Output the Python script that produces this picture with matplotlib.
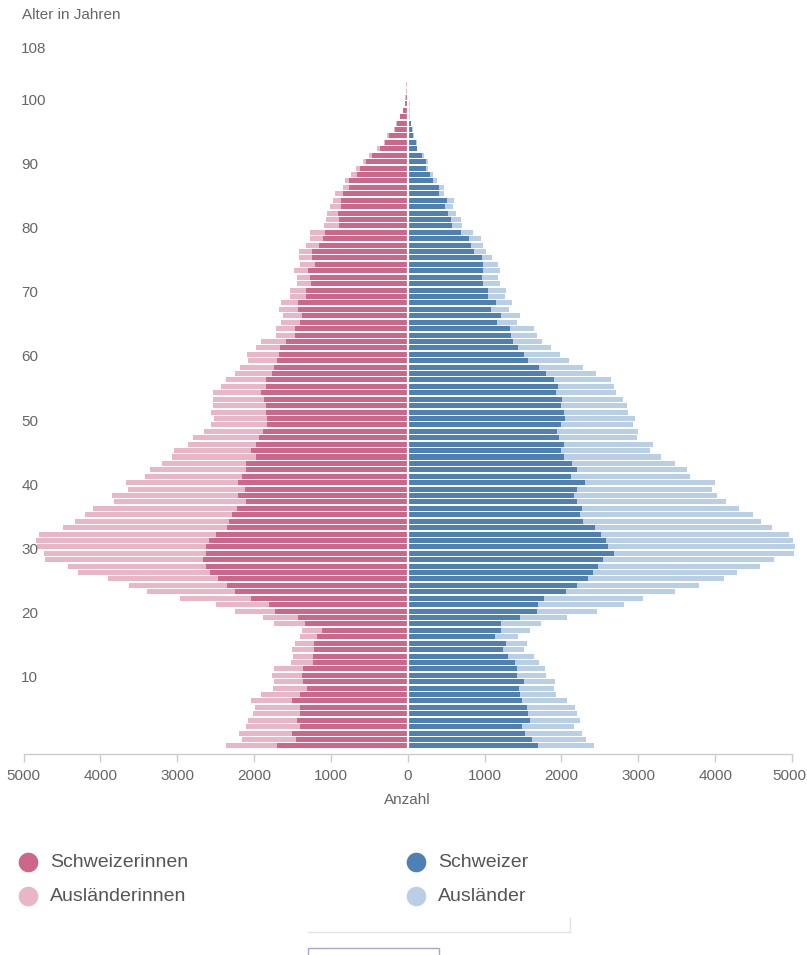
import numpy as np
import matplotlib
matplotlib.use("Agg")
import matplotlib.pyplot as plt
import matplotlib.transforms as mtransforms
from matplotlib.lines import Line2D
from matplotlib.patches import Rectangle

plt.rcParams['font.family'] = ['Liberation Sans', 'DejaVu Sans']

# Alter 0..108
alter = np.arange(0, 109)

# Frauen: Schweizerinnen und Total (Schweizerinnen + Ausländerinnen)
schweizerinnen = [
    1695, 1451, 1508, 1403, 1442, 1407, 1407, 1508, 1407, 1316,
    1364, 1381, 1364, 1237, 1237, 1216, 1216, 1185, 1115, 1342,
    1425, 1721, 1804, 2035, 2244, 2348, 2475, 2579, 2623, 2666,
    2623, 2623, 2584, 2497, 2348, 2327, 2292, 2226, 2100, 2205,
    2117, 2205, 2161, 2100, 2100, 1974, 2035, 1974, 1930, 1887,
    1826, 1826, 1847, 1847, 1865, 1908, 1843, 1843, 1760, 1738,
    1695, 1677, 1656, 1590, 1473, 1468, 1403, 1381, 1425, 1425,
    1329, 1325, 1255, 1272, 1298, 1207, 1246, 1246, 1150, 1107,
    1072, 898, 900, 902, 867, 863, 845, 758, 758, 658,
    627, 540, 462, 357, 292, 248, 161, 135, 100, 57,
    30, 26, 9, 9, 4, 3, 2, 1, 1]
frauen_total = [
    2361, 2161, 2196, 2104, 2074, 2013, 1991, 2035, 1908, 1756,
    1738, 1760, 1738, 1521, 1490, 1508, 1464, 1403, 1381, 1738,
    1882, 2253, 2492, 2963, 3398, 3629, 3895, 4287, 4418, 4714,
    4732, 4823, 4832, 4801, 4483, 4331, 4196, 4096, 3821, 3843,
    3642, 3664, 3416, 3351, 3202, 3067, 3041, 2863, 2788, 2645,
    2566, 2518, 2558, 2536, 2536, 2538, 2436, 2366, 2244, 2183,
    2078, 2091, 1969, 1913, 1717, 1717, 1647, 1625, 1677, 1643,
    1534, 1538, 1447, 1447, 1486, 1403, 1412, 1420, 1325, 1272,
    1268, 1085, 1068, 1050, 1006, 976, 941, 837, 815, 732,
    671, 584, 505, 396, 309, 266, 174, 148, 105, 65,
    39, 39, 17, 17, 13, 9, 5, 4, 3]

# Männer: Schweizer und Total (Schweizer + Ausländer)
schweizer = [
    1690, 1616, 1529, 1486, 1595, 1569, 1555, 1490, 1464, 1447,
    1512, 1425, 1425, 1390, 1298, 1242, 1281, 1133, 1216, 1216,
    1464, 1677, 1695, 1778, 2057, 2205, 2348, 2414, 2470, 2536,
    2684, 2601, 2579, 2514, 2431, 2283, 2240, 2261, 2200, 2157,
    2200, 2305, 2118, 2200, 2139, 2030, 1991, 2035, 1969, 1948,
    2000, 2052, 2035, 1995, 2009, 1934, 1952, 1908, 1795, 1704,
    1560, 1512, 1429, 1368, 1346, 1325, 1159, 1216, 1089, 1150,
    1046, 1046, 985, 967, 985, 980, 967, 867, 823, 793,
    688, 571, 562, 523, 484, 510, 405, 405, 335, 292,
    235, 235, 187, 118, 105, 74, 57, 39, 22, 13,
    9, 9, 0, 0, 0, 0, 0, 0, 0]
maenner_total = [
    2427, 2322, 2270, 2161, 2244, 2200, 2170, 2074, 1926, 1904,
    1921, 1799, 1791, 1708, 1643, 1516, 1547, 1433, 1595, 1730,
    2070, 2462, 2810, 3059, 3481, 3786, 4117, 4283, 4579, 4771,
    5020, 5040, 5010, 4967, 4745, 4592, 4496, 4309, 4135, 4022,
    3961, 4004, 3677, 3634, 3477, 3294, 3154, 3185, 2980, 3002,
    2937, 2963, 2871, 2858, 2802, 2704, 2688, 2640, 2453, 2283,
    2096, 1987, 1869, 1743, 1677, 1643, 1425, 1460, 1316, 1351,
    1259, 1272, 1194, 1176, 1194, 1172, 1102, 1024, 985, 959,
    845, 706, 699, 632, 588, 606, 475, 475, 379, 327,
    266, 261, 213, 126, 118, 83, 65, 44, 35, 26,
    30, 17, 4, 2, 1, 1, 1, 0, 0]

auslaenderinnen = np.array(frauen_total) - np.array(schweizerinnen)
auslaender = np.array(maenner_total) - np.array(schweizer)

y_ticks = [10, 20, 30, 40, 50, 60, 70, 80, 90, 100, 108]
x_ticks = [-5000, -4000, -3000, -2000, -1000, 0, 1000, 2000, 3000, 4000, 5000]

c_sw_f = '#cd6689'
c_au_f = '#e9b6c8'
c_sw_m = '#4f80b3'
c_au_m = '#b9cfe6'
txt = '#666666'

W, H = 807, 955
fig = plt.figure(figsize=(W / 100, H / 100), dpi=100)
ax = fig.add_axes([23.5 / W, 1 - 754 / H, 768.5 / W, 714 / H])

bh = 0.78
sw_f = np.array(schweizerinnen)
sw_m = np.array(schweizer)
ax.barh(alter, -sw_f, height=bh, color=c_sw_f, linewidth=0, clip_on=False)
ax.barh(alter, -auslaenderinnen, left=-sw_f, height=bh, color=c_au_f, linewidth=0, clip_on=False)
ax.barh(alter, sw_m, height=bh, color=c_sw_m, linewidth=0, clip_on=False)
ax.barh(alter, auslaender, left=sw_m, height=bh, color=c_au_m, linewidth=0, clip_on=False)
ax.axvline(0, color='white', linewidth=1.6, zorder=5)

ax.set_xlim(-5000, 5000)
ax.set_ylim(-1.26, 109.95)

for s in ['top', 'right', 'left']:
    ax.spines[s].set_visible(False)
ax.spines['bottom'].set_color('#cccccc')
ax.spines['bottom'].set_linewidth(1)

ax.set_xticks(x_ticks)
ax.set_xticklabels([str(abs(v)) for v in x_ticks])
ax.tick_params(axis='x', colors='#cccccc', length=6, width=1, pad=5,
               labelcolor=txt, labelsize=11)
# letzte Beschriftung rechts nicht abschneiden
last = ax.get_xticklabels()[-1]
last.set_ha('right')
last.set_transform(last.get_transform() +
                   mtransforms.ScaledTranslation(14 / 100, 0, fig.dpi_scale_trans))

ax.set_yticks([])
for a in y_ticks:
    ax.text(-0.003, a + 0.5, str(a), transform=ax.get_yaxis_transform(),
            ha='left', va='center', fontsize=11, color=txt)

ax.set_xlabel('Anzahl', fontsize=11, color=txt, labelpad=7)
fig.text(22 / W, 1 - 15 / H, 'Alter in Jahren', ha='left', va='center',
         fontsize=11, color=txt)

# Legende
lg = fig.add_axes([0, 0, 1, 1])
lg.set_xlim(0, W)
lg.set_ylim(H, 0)
lg.axis('off')
entries = [(28, 862, c_sw_f, 'Schweizerinnen'),
           (28, 896, c_au_f, 'Ausländerinnen'),
           (416, 862, c_sw_m, 'Schweizer'),
           (416, 896, c_au_m, 'Ausländer')]
for x0, y0, c, lab in entries:
    lg.scatter([x0], [y0], s=200, color=c, linewidths=0)
    lg.text(x0 + 22, y0, lab, ha='left', va='center', fontsize=14, color='#555555')

# Reste der Bedienelemente unten
lg.add_line(Line2D([308, 570], [932, 932], color='#e3e3e3', linewidth=1))
lg.add_line(Line2D([570, 570], [918, 932], color='#e3e3e3', linewidth=1))
lg.add_patch(Rectangle((308, 948), 131, 12, fill=False, edgecolor='#a8a8c8', linewidth=1))

fig.savefig('out.png', dpi=100)
